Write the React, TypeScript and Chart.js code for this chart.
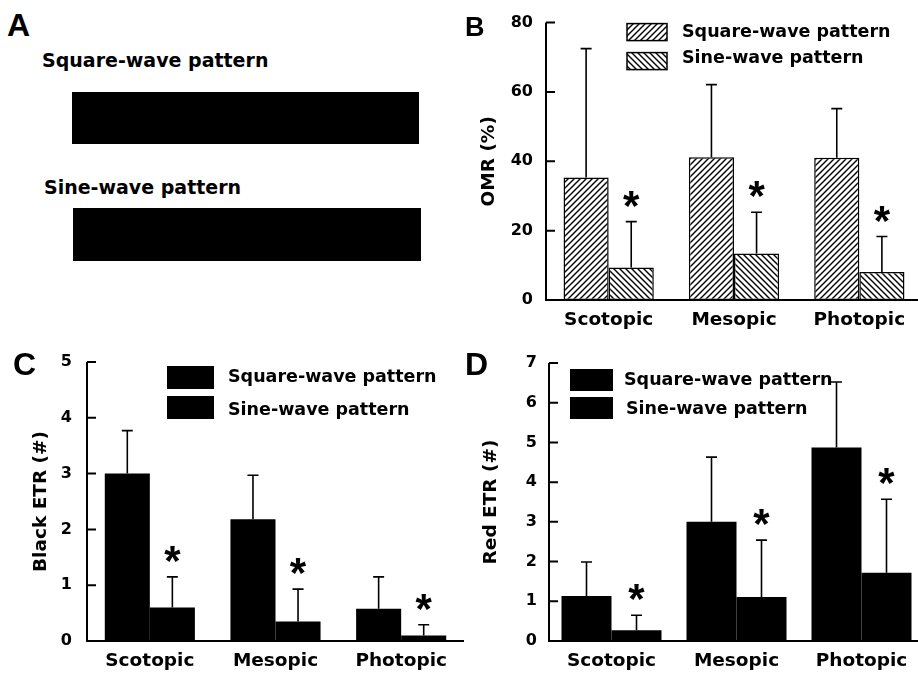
import React, { useEffect, useRef } from 'react';
import { Chart, registerables } from 'chart.js';

Chart.register(...registerables);

// ---------- data ----------
const categories = ['Scotopic', 'Mesopic', 'Photopic'];
const seriesNames = ['Square-wave pattern', 'Sine-wave pattern'];

// Panel B: OMR (%)
const omrSquare = [35.3, 41.2, 41.0];
const omrSquareSd = [37.2, 20.9, 14.2];
const omrSine = [9.4, 13.4, 8.1];
const omrSineSd = [13.2, 11.9, 10.2];

// Panel C: Black ETR (#)
const blackSquare = [3.0, 2.18, 0.58];
const blackSquareSd = [0.77, 0.79, 0.57];
const blackSine = [0.6, 0.35, 0.1];
const blackSineSd = [0.55, 0.58, 0.19];

// Panel D: Red ETR (#)
const redSquare = [1.13, 3.0, 4.87];
const redSquareSd = [0.86, 1.63, 1.65];
const redSine = [0.27, 1.11, 1.72];
const redSineSd = [0.38, 1.43, 1.85];

// significance markers (square, sine)
const squareStars = [false, false, false];
const sineStars = [true, true, true];

const FONT = "'DejaVu Sans', sans-serif";

type Spec = {
  square: number[];
  squareSd: number[];
  sine: number[];
  sineSd: number[];
  yMax: number;
  yStep: number;
  yTitle: string;
  titlePad: number;
  tickPad: number;
  padTop: number;
  yWidth: number;
  xHeight: number;
  catPct: number;
  hatched: boolean;
  legend: { x: number; y1: number; y2: number; w: number; h: number; tx1: number; tx2: number; ty1: number; ty2: number };
};

function makeHatch(ctx: CanvasRenderingContext2D, dir: '/' | '\\') {
  const s = 6;
  const c = document.createElement('canvas');
  c.width = s;
  c.height = s;
  const g = c.getContext('2d')!;
  g.fillStyle = '#fff';
  g.fillRect(0, 0, s, s);
  g.strokeStyle = '#000';
  g.lineWidth = 1.4;
  g.beginPath();
  if (dir === '/') {
    g.moveTo(0, s); g.lineTo(s, 0);
    g.moveTo(-1, 1); g.lineTo(1, -1);
    g.moveTo(s - 1, s + 1); g.lineTo(s + 1, s - 1);
  } else {
    g.moveTo(0, 0); g.lineTo(s, s);
    g.moveTo(s - 1, -1); g.lineTo(s + 1, 1);
    g.moveTo(-1, s - 1); g.lineTo(1, s + 1);
  }
  g.stroke();
  return ctx.createPattern(c, 'repeat')!;
}

function decorPlugin(spec: Spec, fills: any[]) {
  const sds = [spec.squareSd, spec.sineSd];
  const stars = [squareStars, sineStars];
  return {
    id: 'decor',
    afterDatasetsDraw(chart: any) {
      const { ctx, chartArea: a, scales } = chart;
      const ys = scales.y;
      ctx.save();
      // axes
      ctx.strokeStyle = '#000';
      ctx.lineWidth = 2;
      ctx.beginPath();
      const yTop = ys.getPixelForValue(spec.yMax);
      ctx.moveTo(a.left, yTop);
      ctx.lineTo(a.left, a.bottom);
      ctx.lineTo(a.right, a.bottom);
      ys.ticks.forEach((t: any) => {
        const py = ys.getPixelForValue(t.value);
        ctx.moveTo(a.left, py);
        ctx.lineTo(a.left + 9, py);
      });
      ctx.stroke();

      // error bars + stars
      ctx.lineWidth = 1.6;
      chart.data.datasets.forEach((ds: any, di: number) => {
        const meta = chart.getDatasetMeta(di);
        meta.data.forEach((bar: any, i: number) => {
          const v = ds.data[i] as number;
          const top = ys.getPixelForValue(v + sds[di][i]);
          ctx.beginPath();
          ctx.moveTo(bar.x, bar.y);
          ctx.lineTo(bar.x, top);
          ctx.moveTo(bar.x - 5.5, top);
          ctx.lineTo(bar.x + 5.5, top);
          ctx.stroke();
          if (stars[di][i]) {
            ctx.font = "bold 42px 'Liberation Sans', Arial, sans-serif";
            ctx.textAlign = 'center';
            ctx.textBaseline = 'alphabetic';
            ctx.fillStyle = '#000';
            const m = ctx.measureText('*');
            const cy = top - 23;
            ctx.fillText('*', bar.x, cy + (m.actualBoundingBoxAscent - m.actualBoundingBoxDescent) / 2);
          }
        });
      });

      // legend
      const L = spec.legend;
      const ys2 = [L.y1, L.y2];
      const tys = [L.ty1, L.ty2];
      const txs = [L.tx1, L.tx2];
      seriesNames.forEach((name, i) => {
        const bx = a.left + L.x;
        const by = a.top + ys2[i];
        ctx.fillStyle = fills[i];
        ctx.fillRect(bx, by, L.w, L.h);
        if (spec.hatched) {
          ctx.lineWidth = 1.5;
          ctx.strokeStyle = '#000';
          ctx.strokeRect(bx, by, L.w, L.h);
        }
        ctx.fillStyle = '#000';
        ctx.font = `bold 17.5px ${FONT}`;
        ctx.textAlign = 'left';
        ctx.textBaseline = 'middle';
        ctx.fillText(name, a.left + txs[i], a.top + tys[i]);
      });
      ctx.restore();
    },
  };
}

function buildConfig(spec: Spec, ctx: CanvasRenderingContext2D) {
  const fills = spec.hatched ? [makeHatch(ctx, '/'), makeHatch(ctx, '\\')] : ['#000', '#000'];
  const common = {
    borderColor: '#000',
    borderWidth: spec.hatched ? 1.5 : 0,
    borderSkipped: false,
    barPercentage: 1,
    categoryPercentage: spec.catPct,
  };
  return {
    type: 'bar',
    data: {
      labels: categories,
      datasets: [
        { label: seriesNames[0], data: spec.square, backgroundColor: fills[0], ...common },
        { label: seriesNames[1], data: spec.sine, backgroundColor: fills[1], ...common },
      ],
    },
    options: {
      responsive: false,
      animation: false,
      layout: { padding: { top: spec.padTop, left: 0, right: 0, bottom: 0 } },
      plugins: { legend: { display: false }, tooltip: { enabled: false } },
      scales: {
        x: {
          grid: { display: false, drawTicks: false },
          border: { display: false },
          ticks: {
            color: '#000',
            font: { family: FONT, size: 18.5, weight: 'bold' },
            padding: 9,
            maxRotation: 0,
            autoSkip: false,
          },
          afterFit: (s: any) => {
            s.height = spec.xHeight;
          },
        },
        y: {
          min: 0,
          max: spec.yMax,
          grid: { display: false, drawTicks: false },
          border: { display: false },
          ticks: {
            stepSize: spec.yStep,
            color: '#000',
            font: { family: FONT, size: 16, weight: 'bold' },
            padding: spec.tickPad,
          },
          title: {
            display: true,
            text: spec.yTitle,
            color: '#000',
            font: { family: FONT, size: 18.5, weight: 'bold' },
            padding: { top: spec.titlePad, bottom: 0 },
          },
          afterFit: (s: any) => {
            s.width = spec.yWidth;
          },
        },
      },
    },
    plugins: [decorPlugin(spec, fills)],
  } as any;
}

const specB: Spec = {
  square: omrSquare,
  squareSd: omrSquareSd,
  sine: omrSine,
  sineSd: omrSineSd,
  yMax: 80,
  yStep: 20,
  yTitle: 'OMR (%)',
  titlePad: 19,
  tickPad: 13,
  padTop: 21,
  yWidth: 87,
  xHeight: 45,
  catPct: 0.72,
  hatched: true,
  legend: { x: 81, y1: 1, y2: 30, w: 40, h: 17, tx1: 136, tx2: 136, ty1: 10, ty2: 36 },
};

const specC: Spec = {
  square: blackSquare,
  squareSd: blackSquareSd,
  sine: blackSine,
  sineSd: blackSineSd,
  yMax: 5,
  yStep: 1,
  yTitle: 'Black ETR (#)',
  titlePad: 30,
  tickPad: 15,
  padTop: 42,
  yWidth: 87,
  xHeight: 34,
  catPct: 0.717,
  hatched: false,
  legend: { x: 80, y1: 4, y2: 34, w: 47, h: 23, tx1: 141, tx2: 141, ty1: 15.5, ty2: 48 },
};

const specD: Spec = {
  square: redSquare,
  squareSd: redSquareSd,
  sine: redSine,
  sineSd: redSineSd,
  yMax: 7,
  yStep: 1,
  yTitle: 'Red ETR (#)',
  titlePad: 21,
  tickPad: 12,
  padTop: 43,
  yWidth: 90,
  xHeight: 34,
  catPct: 0.8,
  hatched: false,
  legend: { x: 21, y1: 6, y2: 34, w: 43, h: 22, tx1: 75, tx2: 77, ty1: 17, ty2: 46 },
};

function Panel({ spec, left, top, width, height }: { spec: Spec; left: number; top: number; width: number; height: number }) {
  const ref = useRef<HTMLCanvasElement>(null);
  useEffect(() => {
    const canvas = ref.current!;
    const ctx = canvas.getContext('2d')!;
    const chart = new Chart(canvas, buildConfig(spec, ctx));
    return () => chart.destroy();
  }, [spec]);
  return (
    <canvas
      ref={ref}
      width={width}
      height={height}
      style={{ position: 'absolute', left, top, width, height }}
    />
  );
}

const textStyle: React.CSSProperties = {
  position: 'absolute',
  fontFamily: FONT,
  fontWeight: 'bold',
  fontSize: 19,
  lineHeight: 1,
  whiteSpace: 'nowrap',
  color: '#000',
};

const letterStyle: React.CSSProperties = {
  position: 'absolute',
  fontFamily: "'Liberation Sans', Arial, sans-serif",
  fontWeight: 'bold',
  lineHeight: 1,
  color: '#000',
};

export default function App() {
  return (
    <div
      style={{
        position: 'fixed',
        left: 0,
        top: 0,
        width: 918,
        height: 675,
        overflow: 'hidden',
        background: '#fff',
      }}
    >
      {/* Panel A: stimuli */}
      <div style={{ ...textStyle, left: 42, top: 51 }}>Square-wave pattern</div>
      <div style={{ position: 'absolute', left: 72, top: 92, width: 347, height: 52, background: '#000' }} />
      <div style={{ ...textStyle, left: 44, top: 178 }}>Sine-wave pattern</div>
      <div style={{ position: 'absolute', left: 73, top: 208, width: 348, height: 53, background: '#000' }} />

      <Panel spec={specB} left={459} top={0} width={463} height={345} />
      <Panel spec={specC} left={0} top={320} width={464} height={355} />
      <Panel spec={specD} left={459} top={320} width={465} height={355} />

      <div style={{ ...letterStyle, fontSize: 32, left: 7, top: 9 }}>A</div>
      <div style={{ ...letterStyle, fontSize: 27, left: 465, top: 14 }}>B</div>
      <div style={{ ...letterStyle, fontSize: 32, left: 13, top: 348 }}>C</div>
      <div style={{ ...letterStyle, fontSize: 32, left: 465, top: 348 }}>D</div>
    </div>
  );
}
